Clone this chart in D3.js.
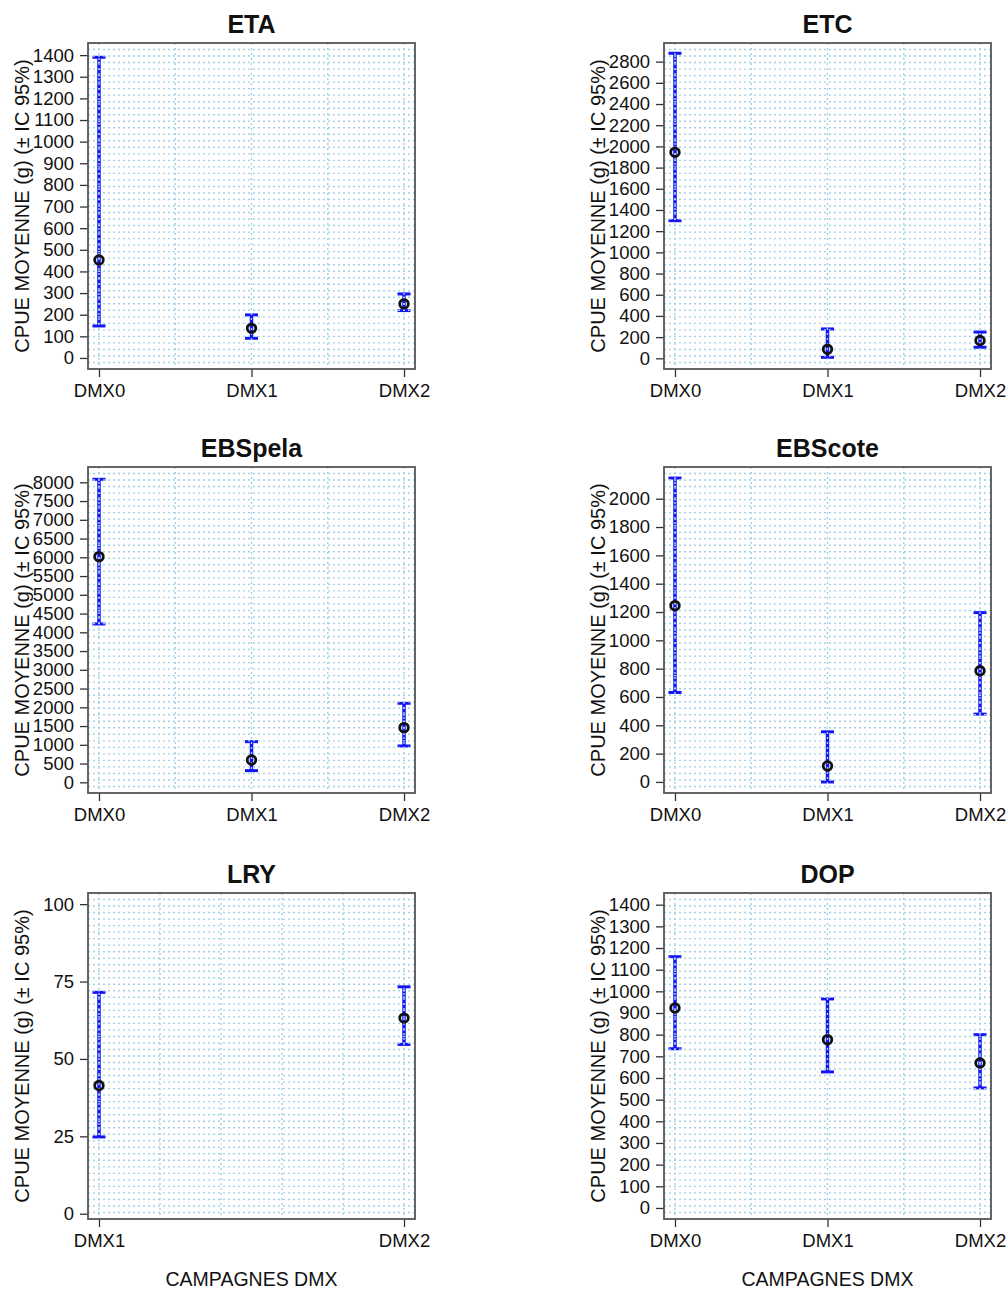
<!DOCTYPE html>
<html>
<head>
<meta charset="utf-8">
<script src="https://cdnjs.cloudflare.com/ajax/libs/d3/7.8.5/d3.min.js"></script>
<style>
  body { margin: 0; background: #fff; }
  svg { display: block; font-family: "Liberation Sans", Arial, sans-serif; }
  .tick text { fill: #111; }
</style>
</head>
<body>
<svg id="chart" width="1008" height="1292"></svg>
<script>
// campaigns on the x axis
const campaigns3 = ["DMX0", "DMX1", "DMX2"];
const campaigns2 = ["DMX1", "DMX2"];

// mean CPUE and 95% CI bounds
const etaMean = [453, 137, 250];
const etaLow = [148, 91, 219];
const etaHigh = [1390, 199, 296];

const etcMean = [1944, 85, 168];
const etcLow = [1299, 9, 104];
const etcHigh = [2879, 277, 248];

const ebspelaMean = [6018, 596, 1458];
const ebspelaLow = [4222, 311, 969];
const ebspelaHigh = [8080, 1084, 2107];

const ebscoteMean = [1245, 113, 785];
const ebscoteLow = [632, 0, 479];
const ebscoteHigh = [2146, 354, 1196];

const lryMean = [41.4, 63.2];
const lryLow = [24.8, 54.7];
const lryHigh = [71.5, 73.3];

const dopMean = [923, 777, 669];
const dopLow = [735, 628, 554];
const dopHigh = [1160, 965, 800];

// y tick labels per panel
const etaTicks = d3.range(0, 1401, 100);
const etcTicks = d3.range(0, 2801, 200);
const ebspelaTicks = d3.range(0, 8001, 500);
const ebscoteTicks = d3.range(0, 2001, 200);
const lryTicks = [0, 25, 50, 75, 100];
const dopTicks = d3.range(0, 1401, 100);

const yTitle = "CPUE MOYENNE (g) (\u00b1 IC 95%)";
const xTitle = "CAMPAGNES DMX";

const panels = [
    { title: "ETA", cats: campaigns3, mean: etaMean, low: etaLow, high: etaHigh, ticks: etaTicks, yDom: [-51, 1456] },
    { title: "ETC", cats: campaigns3, mean: etcMean, low: etcLow, high: etcHigh, ticks: etcTicks, yDom: [-101, 2976] },
    { title: "EBSpela", cats: campaigns3, mean: ebspelaMean, low: ebspelaLow, high: ebspelaHigh, ticks: ebspelaTicks, yDom: [-285, 8408] },
    { title: "EBScote", cats: campaigns3, mean: ebscoteMean, low: ebscoteLow, high: ebscoteHigh, ticks: ebscoteTicks, yDom: [-78, 2224] },
    { title: "LRY", cats: campaigns2, mean: lryMean, low: lryLow, high: lryHigh, ticks: lryTicks, yDom: [-1.7, 103.6] },
    { title: "DOP", cats: campaigns3, mean: dopMean, low: dopLow, high: dopHigh, ticks: dopTicks, yDom: [-51, 1454] }
];

const svg = d3.select("#chart");
const boxLeft = [88, 664];
const boxTop = [43, 467, 893];
const boxW = 327, boxH = 326;
const gridCol = "#9fd2e8";

panels.forEach((p, i) => {
    const col = i % 2, row = Math.floor(i / 2);
    const g = svg.append("g").attr("transform", `translate(${boxLeft[col]},${boxTop[row]})`);

    const n = p.cats.length;
    const pad = (n - 1) * 0.036;
    const x = d3.scaleLinear().domain([1 - pad, n + pad]).range([0, boxW]);
    const y = d3.scaleLinear().domain(p.yDom).range([boxH, 0]);
    const idx = d3.range(n);

    // error bars
    const bars = g.append("g").attr("stroke", "#1414f5");
    bars.selectAll("line.bar").data(idx).enter().append("line")
        .attr("x1", d => x(d + 1)).attr("x2", d => x(d + 1))
        .attr("y1", d => y(p.low[d])).attr("y2", d => y(p.high[d]))
        .attr("stroke-width", 3.5);
    ["low", "high"].forEach(k => {
        bars.selectAll("line.cap-" + k).data(idx).enter().append("line")
            .attr("x1", d => x(d + 1) - 6.5).attr("x2", d => x(d + 1) + 6.5)
            .attr("y1", d => y(p[k][d])).attr("y2", d => y(p[k][d]))
            .attr("stroke-width", 3);
    });

    // dotted grid drawn over the bars
    const grid = g.append("g").attr("stroke", gridCol).attr("stroke-width", 1.4).attr("stroke-dasharray", "2,3");
    const vGrid = n === 3 ? [1, 1.5, 2, 2.5, 3] : [1, 1.2, 1.4, 1.6, 1.8, 2];
    grid.selectAll("line.v").data(vGrid).enter().append("line")
        .attr("x1", d => x(d)).attr("x2", d => x(d)).attr("y1", 0).attr("y2", boxH);
    const hGrid = d3.range(1, 50).map(k => p.yDom[0] + k * (p.yDom[1] - p.yDom[0]) / 50);
    grid.selectAll("line.h").data(hGrid).enter().append("line")
        .attr("x1", 0).attr("x2", boxW).attr("y1", d => y(d)).attr("y2", d => y(d));

    // means
    g.append("g").selectAll("circle").data(idx).enter().append("circle")
        .attr("cx", d => x(d + 1)).attr("cy", d => y(p.mean[d]))
        .attr("r", 4.3).attr("fill", "none").attr("stroke", "#111").attr("stroke-width", 2.8);

    // axes
    const ya = g.append("g").call(d3.axisLeft(y).tickValues(p.ticks).tickFormat(d3.format("d")).tickSize(8).tickPadding(6));
    const xa = g.append("g").attr("transform", `translate(0,${boxH})`)
        .call(d3.axisBottom(x).tickValues(idx.map(d => d + 1)).tickFormat(d => p.cats[d - 1]).tickSize(8).tickPadding(7));
    [ya, xa].forEach(a => {
        a.select(".domain").remove();
        a.selectAll(".tick line").attr("stroke", "#333").attr("stroke-width", 1.3);
        a.selectAll(".tick text").attr("font-size", 18.5);
    });

    g.append("rect").attr("width", boxW).attr("height", boxH)
        .attr("fill", "none").attr("stroke", "#555").attr("stroke-width", 1.8);

    g.append("text").attr("x", boxW / 2).attr("y", -10)
        .attr("text-anchor", "middle").attr("font-size", 25).attr("font-weight", "bold").attr("fill", "#111")
        .text(p.title);

    g.append("text").attr("transform", `translate(-66,${boxH / 2}) rotate(-90)`)
        .attr("text-anchor", "middle").attr("dy", "0.35em").attr("font-size", 20).attr("fill", "#111")
        .text(yTitle);

    if (row === 2) {
        g.append("text").attr("x", boxW / 2).attr("y", boxH + 67)
            .attr("text-anchor", "middle").attr("font-size", 19.5).attr("fill", "#111")
            .text(xTitle);
    }
});
</script>
</body>
</html>
